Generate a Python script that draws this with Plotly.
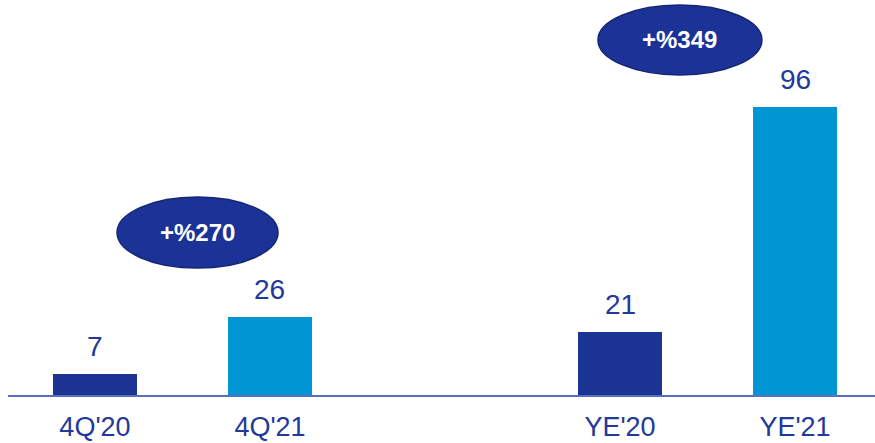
import plotly.graph_objects as go

categories = ["4Q'20", "4Q'21", "YE'20", "YE'21"]
positions = [0, 1, 3, 4]
values = [7, 26, 21, 96]
bar_colors = ["#1B3393", "#0095D3", "#1B3393", "#0095D3"]
growth_labels = ["+%270", "+%349"]

TEXT_COLOR = "#22399A"
FONT = "Liberation Sans, Arial, sans-serif"

fig = go.Figure()
fig.add_trace(go.Bar(
    x=positions, y=values, width=0.48,
    marker=dict(color=bar_colors, line=dict(width=0)),
    hoverinfo="skip",
))

for xp, v in zip(positions, values):
    fig.add_annotation(x=xp, y=v, text=str(v), showarrow=False,
                       yanchor="bottom", yshift=10,
                       font=dict(family=FONT, size=28, color=TEXT_COLOR))

# growth ellipses (x0, x1, y0, y1 in data units)
ellipses = [(0.126, 1.046, 42.3, 66.0), (2.874, 3.811, 106.7, 130.0)]
for (x0, x1, y0, y1), lab in zip(ellipses, growth_labels):
    fig.add_shape(type="circle", xref="x", yref="y", x0=x0, x1=x1, y0=y0, y1=y1,
                  fillcolor="#1B3296", line=dict(color="#152675", width=1.5), layer="above")
    fig.add_annotation(x=(x0 + x1) / 2, y=(y0 + y1) / 2, text="<b>%s</b>" % lab,
                       showarrow=False, font=dict(family=FONT, size=24, color="white"))

fig.update_layout(
    width=875, height=443,
    margin=dict(l=8, r=0, t=0, b=48, autoexpand=False),
    paper_bgcolor="white", plot_bgcolor="white",
    showlegend=False, bargap=0,
)
fig.update_xaxes(range=[-0.497, 4.457], tickvals=positions, ticktext=categories,
                 showline=True, linecolor="#5A6EBD", linewidth=1.5,
                 showgrid=False, zeroline=False, ticks="", automargin=False,
                 tickfont=dict(family=FONT, size=27, color=TEXT_COLOR),
                 ticklabelstandoff=7)
fig.update_yaxes(range=[0, 131.67], visible=False, showgrid=False, zeroline=False,
                 automargin=False)

fig.write_html("out.html")
